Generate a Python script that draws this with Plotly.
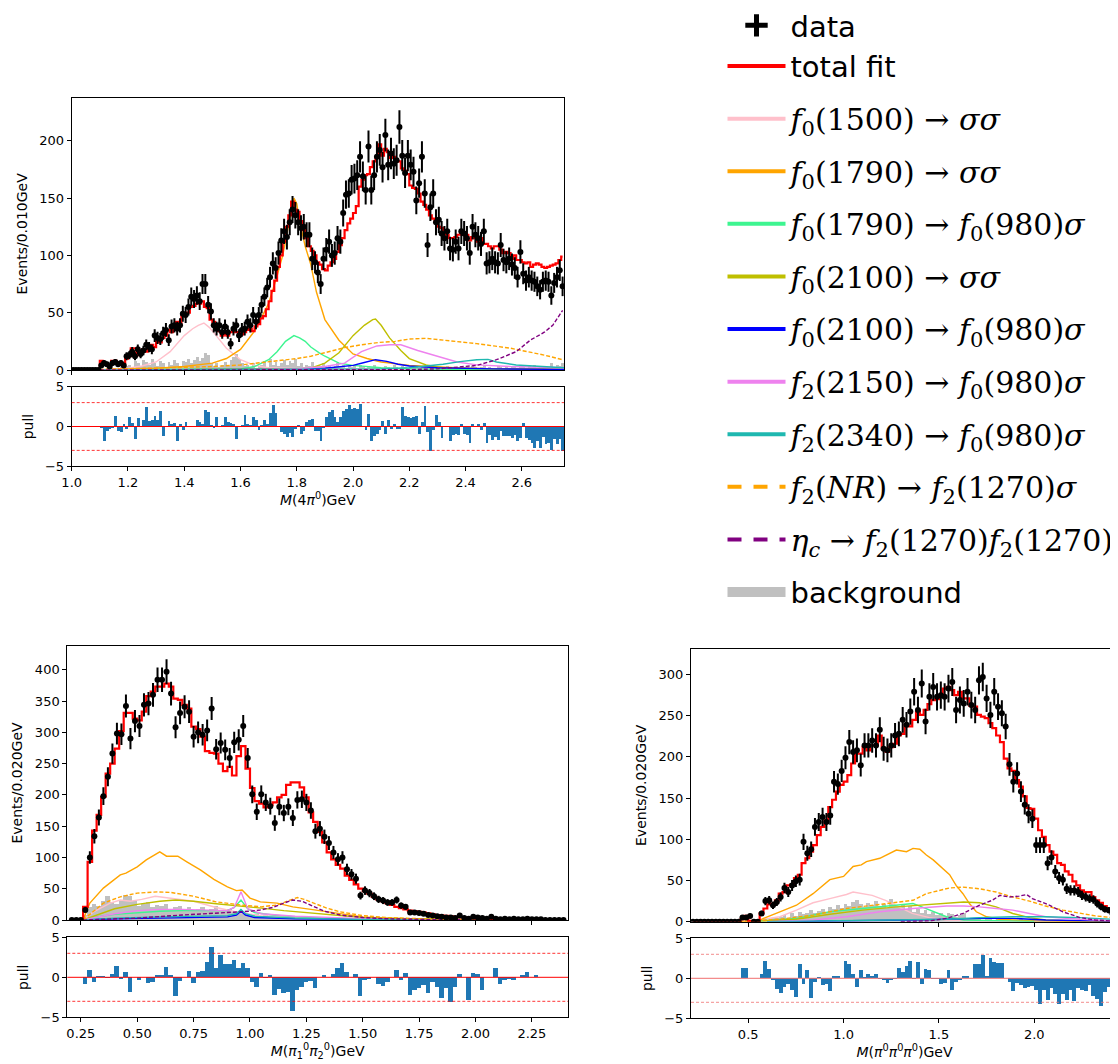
import numpy as np
import plotly.graph_objects as go

# The page body has an 8px margin, so the figure is drawn 8px in from the top-left corner.
OFF = 8
W, H = 1118 - OFF, 1064 - OFF

# ---------------- Panel 1 : M(4pi0), bins of 0.010 GeV starting at 1.005 ----------------
p1_start, p1_step = 1.005, 0.01
p1_data = [0]*10 + [
    4,6,5,3,6,7,5,6,4,12,
    13,16,12,18,14,17,22,20,18,30,
    28,27,32,35,26,38,39,36,39,49,
    48,55,64,62,65,60,75,75,57,51,
    39,36,39,33,38,33,23,36,39,30,
    35,36,42,39,48,42,48,57,64,72,
    81,93,89,102,113,121,116,129,140,135,
    129,124,125,118,118,97,94,85,75,97,
    105,112,100,102,115,112,137,153,154,166,
    167,170,186,169,157,195,157,170,186,192,
    177,205,179,189,180,183,212,187,172,187,
    179,173,148,163,186,154,109,142,154,129,
    131,119,115,121,106,105,112,106,121,119,
    115,102,125,118,115,110,121,93,94,97,
    94,93,109,96,94,97,92,89,81,103,
    84,78,81,78,77,73,70,77,78,77,
    65,76,81,87,73]
p1_fit = [0]*10 + [
    8,5,5,5,8,8,7,5,6,10,
    12,19,19,13,15,18,16,20,22,20,
    25,24,28,30,35,33,40,42,40,47,
    49,50,55,56,58,58,60,55,54,44,
    42,35,34,30,31,30,33,35,33,33,
    31,33,35,36,34,38,40,45,47,53,
    60,69,78,90,100,112,125,135,147,140,
    138,130,122,115,108,104,100,94,92,88,
    87,91,94,97,103,109,115,122,128,132,
    137,143,160,166,170,171,177,182,185,197,
    187,193,190,185,186,183,182,176,174,171,
    161,159,158,154,147,144,140,135,132,129,
    125,124,122,118,115,115,116,118,119,118,
    118,113,116,115,112,115,110,110,108,106,
    108,108,105,102,103,102,97,100,96,96,
    94,93,94,90,92,93,92,90,89,90,
    91,92,93,96,99]
p1_bkg = [0]*10 + [
    1,0,2,1,0,2,1,3,2,4,
    5,3,8,6,4,9,7,5,10,6,
    4,8,6,3,7,5,9,6,4,8,
    7,10,6,9,12,8,11,15,13,6,
    4,6,3,5,7,4,9,12,14,10,
    6,4,5,3,6,2,4,5,8,3,
    10,5,7,4,6,9,5,8,6,10,
    4,6,3,5,4,7,3,5,4,6,
    3,5,2,4,6,3,5,2,4,3,
    4,2,5,3,2,4,3,5,2,3,
    2,4,3,2,5,3,2,4,3,2,
    3,2,4,2,3,5,2,3,2,4,
    2,3,2,4,3,2,3,2,4,3,
    3,2,4,3,2,3,5,2,3,2,
    2,4,3,2,3,2,4,3,2,5,
    3,2,4,3,5,2,3,4,2,3,
    6,3,5,4,6]
p1_pull = [0]*10 + [
    -0.1,-1.8,-0.5,-0.3,-0.2,1.4,-0.5,-0.7,0.3,-0.3,
    1.2,0.5,-1.5,1.1,0,0.9,2.5,0.7,0.8,1.3,
    0.8,2.0,-1.2,0,0.7,0.4,0.5,-1.8,0.3,-0.4,
    0.6,0,0,0.1,0.9,0.6,0.3,2.1,1.9,0.2,
    -0.1,1.2,0,0.2,1.2,0.6,0.5,0.3,-1.5,0,
    0.2,1.5,0.4,0.2,1.2,0.8,-0.4,0.2,0.8,0.4,
    1.7,2.7,1.7,0,-0.6,-0.9,-1.3,-0.8,-1.3,-0.3,
    0.2,-0.9,-0.5,0.6,0.8,1.0,-0.5,-0.5,-1.8,-0.2,
    1.2,1.8,2.1,1.2,0.6,1.2,2.0,2.2,2.8,2.2,
    2.3,2.2,2.9,0,-0.4,1.6,-1.8,-1.2,-0.9,-0.4,
    0.7,-0.9,0.8,-0.3,0.4,-0.3,-0.3,2.5,1.3,1.2,
    1.1,1.2,1.3,-0.9,0.6,2.6,-0.6,-3.0,-0.4,1.5,
    0.6,-1.4,0,0,-1.8,-1.0,-0.9,-1.0,0.4,-0.9,
    -1.0,-2.0,0.4,0.1,0.4,-0.4,0.5,-2.0,-1.0,-1.7,
    -1.3,-1.6,-0.5,-1.1,-1.1,-1.2,-1.4,-1.0,-1.8,-1.4,
    0.5,-1.4,-1.6,-2.0,-2.6,-1.8,-2.6,-1.3,-2.2,-2.0,
    -2.9,-1.5,-2.2,-1.5,-3.0]

p1_comp = {
    "f0_1500_ss": ([1.1,1.15,1.2,1.25,1.3,1.35,1.4,1.43,1.45,1.47,1.49,1.52,1.55,1.6,1.65,1.7,1.8,1.9,2.0,2.2,2.5,2.75],
                   [0,0.5,1.5,3.5,7,16,30,36,39,41,37,28,19,9,4,2,1,0.5,0.3,0.2,0.1,0.1]),
    "f0_1790_ss": ([1.1,1.2,1.3,1.4,1.5,1.55,1.6,1.65,1.7,1.73,1.75,1.77,1.79,1.8,1.81,1.83,1.85,1.87,1.9,1.95,2.0,2.05,2.1,2.2,2.3,2.4,2.5,2.75],
                   [0.3,0.6,1.5,3,6,10,18,34,58,82,100,125,150,145,130,108,92,68,44,26,14,10,7,4,2.5,1.5,1,0.5]),
    "f0_1790_f0s": ([1.1,1.5,1.6,1.65,1.7,1.73,1.76,1.79,1.81,1.83,1.85,1.88,1.9,1.95,2.0,2.1,2.2,2.4,2.75],
                    [0,0.3,1,3,9,16,25,30,28,25,20,15,12,6,4,2,1,0.5,0.3]),
    "f0_2100_ss": ([1.1,1.6,1.7,1.8,1.85,1.9,1.95,2.0,2.04,2.07,2.08,2.1,2.13,2.17,2.2,2.26,2.32,2.5,2.75],
                   [0,0.3,0.6,1,1.5,6,15,30,39,44,44.5,39,28,17,10,4.4,2,1,0.5]),
    "f0_2100_f0s": ([1.1,1.8,1.9,1.95,2.0,2.04,2.08,2.12,2.16,2.2,2.3,2.5,2.75],
                    [0,0.5,1.5,2.5,4,6.5,9,7.5,5,3.5,2,1,0.5]),
    "f2_2150_f0s": ([1.1,1.7,1.8,1.9,1.97,2.03,2.085,2.13,2.17,2.23,2.3,2.37,2.44,2.56,2.75],
                    [0,0.3,1,3,6,16,21,22,22,17,12,7,4.5,3,2]),
    "f2_2340_f0s": ([1.1,1.9,2.1,2.2,2.32,2.38,2.44,2.48,2.51,2.58,2.68,2.75],
                    [0,0.5,1,2,5,7.3,9,9.3,7,4.4,3,2]),
    "f2NR_f2s": ([1.1,1.3,1.5,1.6,1.7,1.8,1.85,1.91,1.97,2.03,2.09,2.15,2.2,2.26,2.32,2.38,2.44,2.5,2.56,2.62,2.68,2.745],
                 [0.5,1.5,3,4.4,7,10,12,16,19.5,22,24,25,27,27.6,26,25,23,21,19,16,13,9]),
    "etac_f2f2": ([1.1,2.0,2.2,2.3,2.44,2.51,2.58,2.63,2.68,2.71,2.745],
                  [0,0,0.3,1,4,9,16,26,33,39,52]),
}

# ---------------- Panel 2 : M(pi0_1 pi0_2), bins of 0.020 GeV starting at 0.21 ----------------
p2_start, p2_step = 0.21, 0.02
p2_data = [0,0,0] + [
    16,100,134,164,198,229,266,298,297,342,
    290,318,310,344,346,360,384,384,397,362,
    308,331,341,333,293,300,296,303,338,273,
    283,272,259,284,288,310,259,201,173,201,
    188,182,155,181,171,181,163,192,193,188,
    175,142,146,133,123,108,97,100,81,73,
    66,39,47,43,38,33,31,28,28,32,
    23,21,12,12,11,10,8,7,6,5,
    4,4,3,7,3,2,5,4,3,2,
    5,2,1,2,1,2,1,1,2,1,
    1,1] + [0,0,0,0,0]
p2_fit = [0,0,0] + [
    21,93,143,168,197,234,250,274,302,331,
    331,322,319,333,358,365,373,373,378,373,
    354,352,344,338,309,305,293,270,267,266,
    250,238,245,231,262,278,242,211,190,186,
    180,184,188,196,200,216,220,220,212,196,
    172,157,141,124,108,97,88,82,71,64,
    57,50,46,42,37,33,30,27,24,21,
    19,17,15,14,13,12,10.5,9,8,7,
    6.5,6,5,4.5,4,3.5,3,2.6,2.3,2,
    1.8,1.6,1.4,1.2,1.1,1,0.9,0.8,0.7,0.6,
    0.5,0.4] + [0.3,0.3,0.2,0.2,0.2]
p2_bkg = [0,0,0] + [
    8,20,26,22,30,38,28,25,32,40,
    38,30,22,25,28,20,24,22,26,18,
    20,22,18,20,16,18,20,15,17,22,
    16,14,18,12,15,13,10,8,9,7,
    8,6,7,5,6,5,4,6,4,5,
    4,3,5,3,4,2,3,2,3,2,
    2,3,1,2,2,1,2,1,1,2,
    1,1,2,1,1,0,1,1,0,1,
    0,1,0,1,0,0,1,0,0,0,
    0,0,1,0,0,0,0,0,0,0,
    0,0] + [0,0,0,0,0]
p2_pull = [0,0,0] + [
    -0.9,0.9,-0.6,0.1,0.1,-0.1,0.4,1.4,-0.3,0.6,
    -1.9,0,-0.4,0,-0.7,-0.6,0.3,0.3,1.2,0.3,
    -2.4,-0.5,0,0.8,-0.7,0.6,0.7,1.9,3.8,1.1,
    2.7,1.6,1.6,2.1,1.1,1.7,1.1,-0.6,-1.2,0.5,
    -0.1,0.3,-2.2,-1.5,-2.0,-1.9,-4.2,-1.6,-1.2,-0.6,
    -0.5,-1.4,0,0.3,0,0.4,1.1,1.8,0.6,0,
    0.4,-2.4,-0.4,-0.3,0,-0.9,-1.1,-0.6,0,0.9,
    -0.4,0.5,-2.3,-1.6,-1.4,-1.0,-2.0,-0.6,-1.2,-2.6,
    -1.4,-3.1,-1.3,0.4,0,-2.9,0.5,0.4,-1.6,0,
    0,1.1,-0.9,-0.4,-0.3,-0.4,0,0.3,0.6,0,
    0.3,0] + [0,0,0,0,0]

p2_comp = {
    "f0_1500_ss": ([0.26,0.306,0.38,0.425,0.47,0.52,0.58,0.65,0.75,0.85,0.95,1.05,1.2,1.4,1.7,2.0],
                   [0,13,27,32,30,33,38,35,30,20,12,7,4,2,1,0.3]),
    "f0_1790_ss": ([0.26,0.29,0.35,0.425,0.45,0.5,0.54,0.59,0.6,0.63,0.68,0.72,0.78,0.84,0.9,0.94,0.965,1.0,1.046,1.12,1.19,1.27,1.34,1.42,1.5,1.6,1.7,1.85,2.0,2.2,2.4],
                   [0,27,51,72,75,85,96,107,109,102,102,93,80,65,53,47,48,35,29,27,21,17,13,9,5,3,2,1,0.5,0.2,0.1]),
    "f0_1790_f0s": ([0.26,0.3,0.4,0.5,0.6,0.7,0.8,0.9,0.93,0.96,0.99,1.02,1.1,1.2,1.4,1.7,2.0],
                    [0,4,9,12,14,15,15,15,20,32,18,12,8,5,2,0.5,0.2]),
    "f0_2100_ss": ([0.26,0.3,0.4,0.5,0.6,0.67,0.75,0.85,0.95,1.05,1.15,1.25,1.35,1.5,1.7,2.0,2.4],
                   [0,5,18,25,30,32,30,26,23,19,15,12,8,4,2,0.5,0.1]),
    "f0_2100_f0s": ([0.26,0.4,0.6,0.8,0.9,0.94,0.96,0.98,1.02,1.2,1.5,2.0],
                    [0,2,3,4,5,8,14,8,4,2,1,0.2]),
    "f2_2150_f0s": ([0.26,0.3,0.4,0.5,0.6,0.7,0.8,0.9,0.93,0.96,0.99,1.05,1.2,1.4,1.6,2.0],
                    [0,3,10,15,17,17,16,15,20,45,18,10,6,3,1,0.3]),
    "f2_2340_f0s": ([0.26,0.4,0.6,0.8,0.9,0.94,0.96,0.98,1.02,1.2,1.5,2.0],
                    [0,3,5,6,7,10,17,10,6,3,1,0.2]),
    "f2NR_f2s": ([0.26,0.3,0.35,0.425,0.5,0.59,0.65,0.75,0.85,0.96,1.05,1.12,1.18,1.21,1.24,1.28,1.34,1.4,1.5,1.6,1.8,2.0,2.4],
                 [0,12,27,37,43,45,44,38,29,24,21,24,32,36,33,27,19,13,7,4,1.5,0.6,0.1]),
    "etac_f2f2": ([0.26,0.35,0.5,0.7,0.9,0.96,1.0,1.045,1.1,1.15,1.19,1.23,1.28,1.33,1.4,1.5,1.6,1.8,2.0],
                  [0,1,3,8,12,13,14,16,20,27,32,30,22,14,8,4,2,0.5,0.2]),
}

# ---------------- Panel 3 : M(pi0 pi0 pi0), bins of 0.020 GeV starting at 0.21 ----------------
p3_start, p3_step = 0.21, 0.02
p3_data = [0]*13 + [
    5,5,7,0,0,10,25,26,20,24,
    30,41,36,44,49,51,97,83,88,115,
    121,127,121,129,170,167,183,199,218,206,
    208,190,214,214,220,214,233,210,208,214,
    226,228,245,239,255,279,257,289,243,273,
    285,273,275,273,283,291,257,269,265,279,
    263,257,293,297,271,251,279,261,253,237,
    191,170,180,158,142,131,125,93,93,93,
    71,78,61,53,51,40,38,38,36,32,
    30,28,27,22,18,15,14,10,6]
p3_fit = [0]*13 + [
    3,7,1,1,1,10,16,21,22,26,
    34,36,44,45,53,57,71,77,85,93,
    105,115,123,139,148,158,166,170,178,192,
    204,204,212,208,214,214,226,210,206,212,
    216,226,228,239,237,245,255,251,257,264,
    269,270,275,283,285,281,275,279,271,271,
    262,261,251,249,247,241,235,226,218,198,
    186,183,172,164,152,138,137,125,111,103,
    93,85,81,71,69,61,57,49,44,38,
    36,36,30,26,23,19,16,13,10]
p3_bkg = [0]*13 + [
    0,0,0,0,1,2,3,2,5,4,
    6,8,5,10,7,12,9,11,14,10,
    13,16,12,18,15,20,17,22,19,24,
    26,21,18,23,20,25,19,22,17,28,
    20,18,22,15,19,12,16,10,14,9,
    12,8,11,7,10,9,6,8,10,5,
    4,3,5,2,4,3,2,3,4,2,
    3,2,2,3,1,2,2,1,2,1,
    2,1,1,2,1,1,2,1,1,1,
    1,1,0,1,1,0,1,1,1]
p3_pull = [0]*13 + [
    1.3,1.3,0,0,0,0.5,2.1,1.1,-0.3,-1.4,
    -1.9,-1.1,-0.7,-1.5,-2.4,1.7,-0.7,1.0,-2.5,-0.5,
    0.1,-0.9,-0.7,-1.6,0.3,0.2,0,2.1,1.8,0.5,
    -1.1,1.0,0.1,0.5,0.2,0.5,-0.1,-0.2,-0.6,-0.2,
    -0.1,1.2,0.8,1.5,2.1,-0.1,2.0,-0.7,1.1,1.0,
    -0.1,-0.1,-0.8,-0.6,1.0,-1.5,-0.5,-0.3,0.3,0.3,
    0,1.7,1.7,2.9,0.3,2.5,2.0,1.9,1.9,0,
    -0.5,-1.6,-0.6,-0.9,-1.3,-1.1,-1.0,-1.5,-3.2,-1.5,
    -2.8,-1.3,-2.0,-3.3,-2.0,-2.8,-1.5,-2.9,-1.3,-1.5,
    -1.6,-0.9,-2.2,-2.6,-3.5,-1.8,-1.1,-1.5,-2.4]

p3_comp = {
    "f0_1500_ss": ([0.5,0.666,0.753,0.84,0.928,1.015,1.05,1.1,1.15,1.22,1.29,1.36,1.45,1.54,1.7,2.0],
                   [0,6,14,23,28,33,36,34,32,26,18,10,5,2,1,0.3]),
    "f0_1790_ss": ([0.45,0.56,0.666,0.753,0.84,0.893,0.928,1.0,1.05,1.093,1.12,1.19,1.277,1.33,1.364,1.4,1.434,1.47,1.52,1.556,1.59,1.626,1.66,1.696,1.75,1.82,1.89,2.0,2.2,2.44],
                   [0,2,12,20,34,44,51,55,67,69,73,77,87,85,89,88,81,75,65,57,44,34,22,12,6,3,2,1,0.5,0.2]),
    "f0_1790_f0s": ([0.5,0.753,0.928,1.1,1.24,1.31,1.364,1.4,1.47,1.54,1.63,1.8,2.0],
                    [0,4,12,16,19,21,22,19,12,6,2,1,0.3]),
    "f0_2100_ss": ([0.5,0.753,0.928,1.1,1.277,1.45,1.54,1.63,1.713,1.8,1.887,1.975,2.06,2.2,2.44],
                   [0,3,9,14,18,21,23,24,23,18,10,5,2,1,0.3]),
    "f0_2100_f0s": ([0.6,1.015,1.364,1.713,1.887,2.06,2.24,2.44],
                    [0,1,2,4,4,2,1,0.5]),
    "f2_2150_f0s": ([0.6,0.84,1.015,1.19,1.364,1.54,1.63,1.713,1.8,1.887,1.975,2.06,2.24,2.44],
                    [0,2,6,12,16,19,19,18,16,14,10,6,3,1]),
    "f2_2340_f0s": ([0.6,1.19,1.54,1.713,1.887,2.06,2.24,2.41,2.44],
                    [0,2,3,5,6,6,5,3,3]),
    "f2NR_f2s": ([0.45,0.666,0.84,1.015,1.19,1.364,1.434,1.5,1.556,1.626,1.713,1.8,1.887,1.975,2.06,2.15,2.24,2.32,2.41,2.44],
                 [0,3,8,16,21,26,34,38,41,42,40,36,30,25,19,14,10,7,5,4]),
    "etac_f2f2": ([1.3,1.45,1.54,1.626,1.713,1.78,1.82,1.87,1.92,1.96,1.99,2.06,2.15,2.24,2.32,2.44],
                  [0,1,4,10,20,26,32,30,31,33,28,22,12,5,2,0.5]),
}

# ---------------- styles / legend labels ----------------
def m(s):
    return '<span style="font-family:DejaVu Serif;font-size:30px">' + s + '</span>'

comp_style = {
    "f0_1500_ss":  ("#ffc0cb", "solid", m("<i>f</i><sub>0</sub>(1500) → <i>σσ</i>")),
    "f0_1790_ss":  ("#ffa500", "solid", m("<i>f</i><sub>0</sub>(1790) → <i>σσ</i>")),
    "f0_1790_f0s": ("#3df590", "solid", m("<i>f</i><sub>0</sub>(1790) → <i>f</i><sub>0</sub>(980)<i>σ</i>")),
    "f0_2100_ss":  ("#bfbf00", "solid", m("<i>f</i><sub>0</sub>(2100) → <i>σσ</i>")),
    "f0_2100_f0s": ("#0000ff", "solid", m("<i>f</i><sub>0</sub>(2100) → <i>f</i><sub>0</sub>(980)<i>σ</i>")),
    "f2_2150_f0s": ("#ee82ee", "solid", m("<i>f</i><sub>2</sub>(2150) → <i>f</i><sub>0</sub>(980)<i>σ</i>")),
    "f2_2340_f0s": ("#1fb8b0", "solid", m("<i>f</i><sub>2</sub>(2340) → <i>f</i><sub>0</sub>(980)<i>σ</i>")),
    "f2NR_f2s":    ("#ffa500", "dash",  m("<i>f</i><sub>2</sub>(<i>NR</i>) → <i>f</i><sub>2</sub>(1270)<i>σ</i>")),
    "etac_f2f2":   ("#800080", "dash",  m("<i>η</i><sub><i>c</i></sub> → <i>f</i><sub>2</sub>(1270)<i>f</i><sub>2</sub>(1270)")),
}

fig = go.Figure()

def add_panel(start, step, data, fit, bkg, pull, comps, xa, ya, xp, yp):
    n = len(data)
    x = np.round(start + step * np.arange(n), 4)
    fig.add_trace(go.Bar(x=x, y=bkg, width=step, marker=dict(color="#c0c0c0", line=dict(width=0)),
                         xaxis=xa, yaxis=ya, showlegend=False, hoverinfo="skip"))
    for key, (cx, cy) in comps.items():
        col, dash, _ = comp_style[key]
        fig.add_trace(go.Scatter(x=cx, y=cy, mode="lines",
                                 line=dict(color=col, width=1.4, dash="4px,2px" if dash == "dash" else "solid"),
                                 xaxis=xa, yaxis=ya, showlegend=False))
    fig.add_trace(go.Scatter(x=x, y=fit, mode="lines", line=dict(color="#ff0000", width=2.2, shape="hvh"),
                             xaxis=xa, yaxis=ya, showlegend=False))
    err = np.sqrt(np.array(data, dtype=float))
    fig.add_trace(go.Scatter(x=x, y=data, mode="markers", marker=dict(color="black", size=6),
                             error_y=dict(type="data", array=err, color="black", thickness=2, width=0),
                             xaxis=xa, yaxis=ya, showlegend=False))
    fig.add_trace(go.Bar(x=x, y=pull, width=step, marker=dict(color="#1f77b4", line=dict(width=0)),
                         xaxis=xp, yaxis=yp, showlegend=False))

add_panel(p1_start, p1_step, p1_data, p1_fit, p1_bkg, p1_pull, p1_comp, "x", "y", "x2", "y2")
add_panel(p2_start, p2_step, p2_data, p2_fit, p2_bkg, p2_pull, p2_comp, "x3", "y3", "x4", "y4")
add_panel(p3_start, p3_step, p3_data, p3_fit, p3_bkg, p3_pull, p3_comp, "x5", "y5", "x6", "y6")

# ---------------- legend entries ----------------
fig.add_trace(go.Scatter(x=[None], y=[None], mode="markers", name="data", legendgroup="g0",
                         marker=dict(symbol="cross-thin", size=16, color="black", line=dict(width=5, color="black")),
                         xaxis="x", yaxis="y"))
fig.add_trace(go.Scatter(x=[None], y=[None], mode="lines", name="total fit", legendgroup="g0",
                         line=dict(color="#ff0000", width=4), xaxis="x", yaxis="y"))
for i, (key, (col, dash, label)) in enumerate(comp_style.items()):
    fig.add_trace(go.Scatter(x=[None], y=[None], mode="lines", name=label, legendgroup="g%d" % (i + 1),
                             line=dict(color=col, width=4, dash="14px,12px" if dash == "dash" else "solid"),
                             xaxis="x", yaxis="y"))
fig.add_trace(go.Scatter(x=[None], y=[None], mode="lines", name="background", legendgroup="g99",
                         line=dict(color="#c0c0c0", width=10), xaxis="x", yaxis="y"))

# ---------------- axes ----------------
tickfont = dict(size=13, color="black", family="DejaVu Sans")
titlefont = dict(size=14, color="black", family="DejaVu Sans")

def axis(domain, rng, anchor, mirror=True, **kw):
    d = dict(domain=domain, range=rng, anchor=anchor, showline=True, linecolor="black", linewidth=1,
             mirror=mirror, ticks="outside", ticklen=4, tickwidth=1, tickcolor="black",
             showgrid=False, zeroline=False, tickfont=tickfont, automargin=False)
    d.update(kw)
    return d

def px_x(a, b):
    # screenshot pixel columns -> paper fraction
    return [(a - OFF) / W, min(1.0, (b - OFF) / W)]

def px_y(top, bottom):
    # screenshot pixel rows -> paper fraction
    return [1 - (bottom - OFF) / H, 1 - (top - OFF) / H]

layout = dict(
    width=W, height=H, autosize=False, template="none",
    margin=dict(l=0, r=0, t=0, b=0, pad=0, autoexpand=False),
    paper_bgcolor="white", plot_bgcolor="white",
    barmode="overlay", bargap=0,
    showlegend=True,
    legend=dict(x=714.5 / W, y=1 + 8 / H, xanchor="left", yanchor="top",
                font=dict(size=29, family="DejaVu Sans", color="black"),
                bgcolor="rgba(0,0,0,0)", itemwidth=58, tracegroupgap=11.9, maxheight=900,
                traceorder="grouped", itemclick=False, itemdoubleclick=False),
    # panel 1
    xaxis=axis(px_x(71.7, 564), [1.0, 2.75], "y", tick0=1.0, dtick=0.2, showticklabels=False),
    yaxis=axis(px_y(97.7, 370), [0, 237.6], "x", tick0=0, dtick=50,
               title=dict(text="Events/0.010GeV", font=titlefont, standoff=8)),
    xaxis2=axis(px_x(71.7, 564), [1.0, 2.75], "y2", tick0=1.0, dtick=0.2, tickformat=".1f",
                title=dict(text="<i>M</i>(4<i>π</i><sup>0</sup>)GeV", font=titlefont, standoff=5)),
    yaxis2=axis(px_y(386.7, 466.3), [-5, 5], "x2", tickvals=[-5, 0, 5],
                title=dict(text="pull", font=titlefont, standoff=8)),
    # panel 2
    xaxis3=axis(px_x(67.3, 568), [0.19, 2.41], "y3", tick0=0.25, dtick=0.25, showticklabels=False),
    yaxis3=axis(px_y(646, 920), [0, 438], "x3", tick0=0, dtick=50,
                title=dict(text="Events/0.020GeV", font=titlefont, standoff=8)),
    xaxis4=axis(px_x(67.3, 568), [0.19, 2.41], "y4", tick0=0.25, dtick=0.25, tickformat=".2f",
                title=dict(text="<i>M</i>(<i>π</i><sub>1</sub><sup>0</sup><i>π</i><sub>2</sub><sup>0</sup>)GeV", font=titlefont, standoff=5)),
    yaxis4=axis(px_y(937.3, 1017.3), [-5, 5], "x4", tickvals=[-5, 0, 5],
                title=dict(text="pull", font=titlefont, standoff=8)),
    # panel 3
    xaxis5=axis(px_x(691, 1118), [0.2, 2.439], "y5", tick0=0.5, dtick=0.5, showticklabels=False),
    yaxis5=axis(px_y(649, 921.7), [0, 331], "x5", mirror=False, tick0=0, dtick=50,
                title=dict(text="Events/0.020GeV", font=titlefont, standoff=8)),
    xaxis6=axis(px_x(691, 1118), [0.2, 2.439], "y6", tick0=0.5, dtick=0.5, tickformat=".1f",
                title=dict(text="<i>M</i>(<i>π</i><sup>0</sup><i>π</i><sup>0</sup><i>π</i><sup>0</sup>)GeV", font=titlefont, standoff=5)),
    yaxis6=axis(px_y(938.3, 1018.3), [-5, 5], "x6", mirror=False, tickvals=[-5, 0, 5],
                title=dict(text="pull", font=titlefont, standoff=8)),
)
fig.update_layout(**layout)

# pull reference lines (0 and +-3 sigma)
pull_lines = [0, 3, -3]
for xa, ya, col in [("x2", "y2", "#ff0000"), ("x4", "y4", "#ff0000"), ("x6", "y6", "#f07070")]:
    for v in pull_lines:
        fig.add_shape(type="line", xref=xa + " domain", yref=ya, x0=0, x1=1, y0=v, y1=v,
                      line=dict(color=col, width=1 if v == 0 else 0.8, dash="solid" if v == 0 else "3px,2px"),
                      layer="above")

fig.write_html("out.html")
